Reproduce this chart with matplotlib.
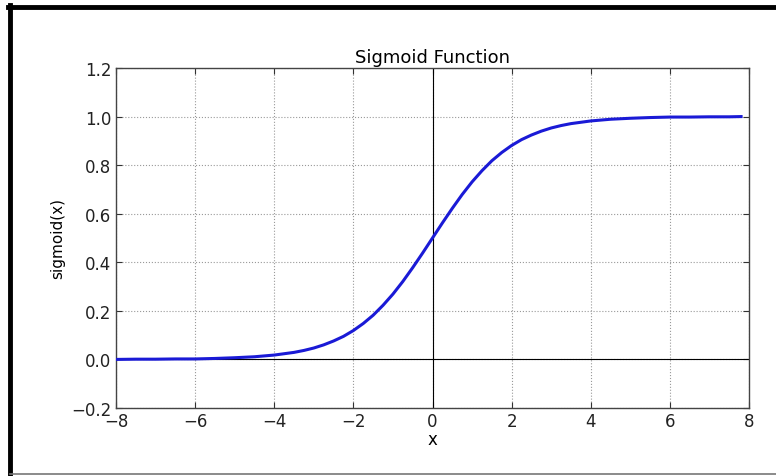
import matplotlib
matplotlib.use('Agg')
import matplotlib.pyplot as plt
from matplotlib.lines import Line2D

# values
x_vals = [-8, -7.5, -7, -6.5, -6, -5.5, -5, -4.5, -4, -3.5, -3.25, -3, -2.75, -2.5, -2.25,
          -2, -1.75, -1.5, -1.25, -1, -0.75, -0.5, -0.25, 0, 0.25, 0.5, 0.75, 1, 1.25,
          1.5, 1.75, 2, 2.25, 2.5, 2.75, 3, 3.25, 3.5, 4, 4.5, 5, 5.5, 6, 6.5, 7, 7.5, 7.8]
y_vals = [0.000, 0.001, 0.001, 0.002, 0.002, 0.004, 0.007, 0.011, 0.018, 0.029, 0.037,
          0.047, 0.060, 0.076, 0.095, 0.119, 0.148, 0.182, 0.223, 0.269, 0.321, 0.378,
          0.438, 0.500, 0.562, 0.622, 0.679, 0.731, 0.777, 0.818, 0.852, 0.881, 0.905,
          0.924, 0.940, 0.953, 0.963, 0.971, 0.982, 0.989, 0.993, 0.996, 0.998, 0.998,
          0.999, 0.999, 1.000]
x_ticks = [-8, -6, -4, -2, 0, 2, 4, 6, 8]
y_ticks = [-0.2, 0.0, 0.2, 0.4, 0.6, 0.8, 1.0, 1.2]

plt.rcParams['font.family'] = 'DejaVu Sans'
plt.rcParams['font.size'] = 12

fig = plt.figure(figsize=(7.76, 4.77), dpi=100, facecolor='white')
ax = fig.add_axes([116 / 776, 1 - 409 / 477, (749 - 116) / 776, (409 - 69) / 477])

ax.plot(x_vals, y_vals, color='#1a1ad6', linewidth=2.2, zorder=3)
ax.axhline(0, color='black', linewidth=0.8, zorder=2)
ax.axvline(0, color='black', linewidth=0.8, zorder=2)

ax.set_xlim(-8, 8)
ax.set_ylim(-0.2, 1.2)
ax.set_xticks(x_ticks)
ax.set_yticks(y_ticks)
ax.grid(True, linestyle=':', color='#999999', linewidth=0.8)
ax.tick_params(direction='in', length=4, width=0.8, top=True, right=True, colors='#333333',
               labelsize=12, labelcolor='#222222')
ax.tick_params(axis='x', pad=3)
for sp in ax.spines.values():
    sp.set_color('#444444')
    sp.set_linewidth(1.0)

ax.set_title('Sigmoid Function', fontsize=13, pad=4)
ax.set_xlabel('x', fontsize=12, labelpad=0)
ax.set_ylabel('sigmoid(x)', fontsize=11, labelpad=4)

# frame around the picture: thick top and left, thin grey bottom
tf = fig.transFigure
fig.lines.append(Line2D([10 / 776, 10 / 776], [0, 1 - 6 / 477], transform=tf,
                        color='black', linewidth=3.5))
fig.lines.append(Line2D([8 / 776, 1], [1 - 8 / 477, 1 - 8 / 477], transform=tf,
                        color='black', linewidth=3.5))
fig.lines.append(Line2D([10 / 776, 1], [2 / 477, 2 / 477], transform=tf,
                        color='#777777', linewidth=1.2))

fig.savefig('out.png', dpi=100, facecolor='white')
